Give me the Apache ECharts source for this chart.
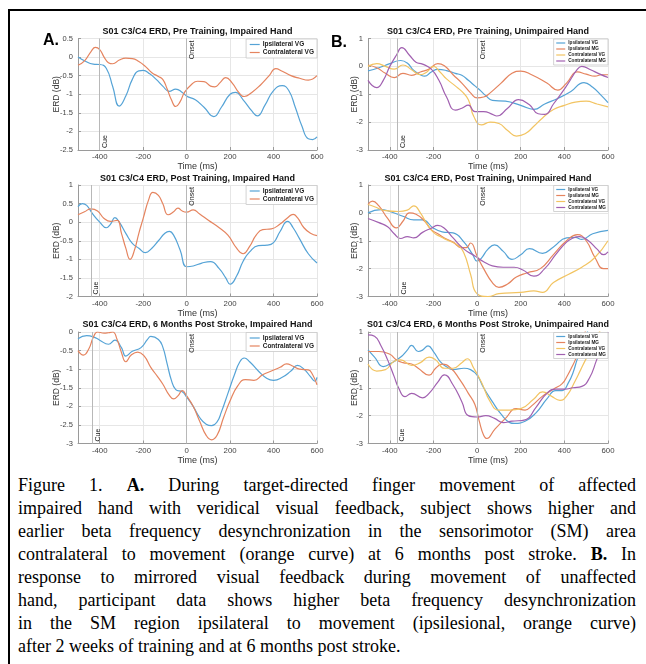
<!DOCTYPE html>
<html><head><meta charset="utf-8">
<script src="https://cdn.jsdelivr.net/npm/echarts@6/dist/echarts.min.js"></script>
<style>
html,body{margin:0;padding:0;background:#fff;width:646px;height:664px;overflow:hidden;position:relative}
#frame{position:absolute;left:8px;top:9px;width:700px;height:700px;border:2px solid #000;box-sizing:border-box}
#chart{position:absolute;left:0;top:0;width:646px;height:470px}
#cap{position:absolute;left:18px;top:474px;width:618px;font-family:'Liberation Serif','Times New Roman',serif;font-size:18px;line-height:23px;color:#000}
#cap div{text-align:justify;text-align-last:justify;white-space:nowrap}
#cap div.last{text-align:left;text-align-last:left}
</style></head>
<body>
<div id="frame"></div>
<div id="chart"></div>
<div id="cap">
<div>Figure 1. <b>A.</b> During target-directed finger movement of affected</div>
<div>impaired hand with veridical visual feedback, subject shows higher and</div>
<div>earlier beta frequency desynchronization in the sensorimotor (SM) area</div>
<div>contralateral to movement (orange curve) at 6 months post stroke. <b>B.</b> In</div>
<div>response to mirrored visual feedback during movement of unaffected</div>
<div>hand, participant data shows higher beta frequency desynchronization</div>
<div>in the SM region ipsilateral to movement (ipsilesional, orange curve)</div>
<div class="last">after 2 weeks of training and at 6 months post stroke.</div>
</div>
<script>
// ---- data ----
const xTicks = [-400, -200, 0, 200, 400, 600];
const titles = [
  'S01 C3/C4 ERD, Pre Training, Impaired Hand',
  'S01 C3/C4 ERD, Pre Training, Unimpaired Hand',
  'S01 C3/C4 ERD, Post Training, Impaired Hand',
  'S01 C3/C4 ERD, Post Training, Unimpaired Hand',
  'S01 C3/C4 ERD, 6 Months Post Stroke, Impaired Hand',
  'S01 C3/C4 ERD, 6 Months Post Stroke, Unimpaired Hand'
];
const namesA = ['Ipsilateral VG', 'Contralateral VG'];
const namesB = ['Ipsilateral VG', 'Ipsilateral MG', 'Contralateral VG', 'Contralateral MG'];
const cueTimes = [-400, -365, -440, -362, -435, -367];

const preImpIpsi = [[-500,0.0],[-470,-0.1],[-430,-0.19],[-400,-0.2],[-370,-0.3],[-340,-0.8],[-310,-1.32],[-280,-1.05],[-250,-0.6],[-220,-0.37],[-200,-0.36],[-170,-0.45],[-140,-0.6],[-110,-0.78],[-80,-0.92],[-50,-0.86],[-20,-0.95],[0,-1.05],[40,-1.15],[80,-1.35],[125,-1.6],[160,-1.35],[200,-1.0],[225,-0.95],[260,-1.15],[300,-1.45],[325,-1.58],[360,-1.3],[400,-0.9],[440,-0.77],[470,-0.9],[500,-1.35],[530,-1.85],[560,-2.2],[580,-2.22],[600,-2.15]];
const preImpContra = [[-500,-0.22],[-470,-0.1],[-440,0.15],[-420,0.26],[-400,0.2],[-380,0.0],[-360,-0.15],[-340,-0.18],[-310,-0.08],[-280,-0.03],[-250,-0.04],[-220,-0.12],[-190,-0.25],[-160,-0.42],[-130,-0.52],[-110,-0.6],[-90,-0.85],[-70,-1.15],[-50,-1.33],[-30,-1.2],[-10,-0.95],[20,-0.75],[50,-0.65],[80,-0.66],[110,-0.78],[130,-0.8],[155,-0.68],[180,-0.55],[210,-0.7],[240,-0.95],[265,-1.06],[300,-0.95],[340,-0.75],[380,-0.5],[410,-0.31],[440,-0.38],[480,-0.5],[520,-0.57],[560,-0.62],[600,-0.5]];

const postImpIpsi = [[-500,0.42],[-480,0.5],[-460,0.45],[-430,0.2],[-400,0.0],[-370,-0.15],[-350,-0.05],[-330,0.12],[-310,0.0],[-280,-0.3],[-250,-0.57],[-220,-0.7],[-190,-0.82],[-160,-0.7],[-130,-0.5],[-100,-0.3],[-80,-0.25],[-60,-0.35],[-30,-0.75],[0,-1.2],[30,-1.18],[70,-1.1],[110,-1.06],[150,-1.25],[180,-1.5],[200,-1.67],[230,-1.45],[260,-1.05],[290,-0.8],[330,-0.63],[370,-0.62],[400,-0.55],[430,-0.25],[465,0.02],[490,-0.15],[520,-0.45],[560,-0.85],[600,-1.1]];
const postImpContra = [[-500,0.2],[-470,0.28],[-440,0.36],[-410,0.3],[-380,0.1],[-350,0.02],[-320,0.05],[-300,-0.3],[-280,-0.7],[-260,-1.0],[-240,-0.75],[-220,-0.3],[-200,0.1],[-175,0.6],[-155,0.8],[-130,0.72],[-110,0.5],[-85,0.2],[-60,0.28],[-40,0.38],[-20,0.3],[0,0.27],[30,0.33],[60,0.22],[100,0.05],[150,-0.15],[190,-0.35],[230,-0.7],[260,-0.85],[290,-0.65],[320,-0.35],[350,-0.2],[390,-0.18],[430,-0.05],[465,0.12],[490,0.21],[510,0.12],[540,-0.15],[570,-0.3],[600,-0.36]];

const m6ImpIpsi = [[-500,-0.18],[-460,-0.1],[-430,-0.13],[-400,-0.22],[-360,-0.33],[-330,-0.22],[-300,-0.42],[-280,-0.65],[-250,-0.52],[-210,-0.42],[-180,-0.2],[-165,-0.12],[-130,-0.2],[-110,-0.4],[-90,-0.85],[-70,-1.3],[-50,-1.55],[-20,-1.61],[0,-1.75],[30,-2.0],[60,-2.3],[90,-2.48],[115,-2.52],[140,-2.42],[160,-2.15],[190,-1.65],[220,-1.15],[245,-0.8],[265,-0.7],[290,-0.8],[330,-1.05],[370,-1.25],[400,-1.3],[440,-1.22],[480,-1.05],[510,-0.9],[540,-1.0],[570,-1.2],[590,-1.32],[600,-1.22]];
const m6ImpContra = [[-500,-0.5],[-475,-0.62],[-450,-0.45],[-430,-0.15],[-410,0.0],[-380,-0.03],[-360,-0.02],[-340,0.0],[-320,-0.2],[-300,-0.55],[-280,-0.8],[-255,-0.62],[-225,-0.54],[-195,-0.65],[-165,-0.95],[-140,-1.15],[-110,-1.4],[-80,-1.7],[-60,-1.8],[-40,-1.72],[-20,-1.58],[0,-1.72],[30,-2.0],[60,-2.4],[90,-2.78],[115,-2.9],[140,-2.78],[170,-2.3],[200,-1.85],[235,-1.45],[270,-1.28],[310,-1.3],[350,-1.15],[390,-1.05],[430,-0.95],[460,-0.86],[490,-0.92],[520,-1.0],[560,-1.02],[580,-1.15],[600,-1.42]];

const preUnIpsiVG = [[-500,-0.16],[-450,-0.05],[-400,0.1],[-350,0.21],[-320,0.12],[-290,-0.15],[-260,-0.3],[-240,-0.35],[-210,-0.2],[-180,-0.11],[-140,-0.15],[-100,-0.25],[-70,-0.32],[-40,-0.5],[-10,-0.7],[10,-0.83],[40,-1.05],[70,-1.22],[130,-1.25],[200,-1.4],[260,-1.54],[310,-1.35],[370,-1.15],[430,-0.9],[490,-0.58],[530,-0.75],[570,-1.05],[600,-1.3]];
const preUnIpsiMG = [[-500,0.05],[-460,-0.05],[-420,-0.25],[-380,-0.4],[-340,-0.25],[-300,-0.32],[-260,-0.2],[-220,-0.1],[-180,0.1],[-150,0.02],[-110,-0.3],[-70,-0.6],[-30,-0.95],[0,-1.13],[30,-1.1],[60,-0.95],[110,-0.6],[160,-0.25],[200,-0.17],[250,-0.3],[320,-0.6],[370,-0.85],[410,-0.6],[460,-0.2],[500,-0.28],[540,-0.35],[570,-0.3],[600,-0.3]];
const preUnContraVG = [[-500,0.0],[-460,0.1],[-420,0.0],[-380,-0.1],[-340,0.05],[-300,-0.12],[-260,-0.3],[-230,-0.2],[-200,0.0],[-170,-0.2],[-140,-0.45],[-100,-0.7],[-70,-0.9],[-40,-1.2],[-15,-1.8],[20,-2.1],[60,-2.0],[100,-2.05],[140,-2.3],[180,-2.5],[220,-2.42],[260,-2.15],[300,-1.85],[350,-1.55],[400,-1.4],[450,-1.28],[500,-1.25],[550,-1.35],[600,-1.45]];
const preUnContraMG = [[-500,-0.5],[-460,-0.76],[-430,-0.5],[-400,0.0],[-370,0.4],[-345,0.67],[-310,0.4],[-280,0.15],[-250,0.08],[-210,-0.1],[-175,-0.5],[-140,-1.1],[-100,-1.57],[-70,-1.5],[-40,-1.39],[-10,-1.62],[30,-1.62],[70,-1.72],[90,-1.78],[140,-1.5],[190,-1.19],[240,-1.38],[280,-1.7],[310,-1.72],[350,-1.35],[410,-0.7],[460,-0.1],[480,0.0],[520,-0.12],[560,-0.27],[600,-0.4]];

const postUnIpsiVG = [[-500,0.0],[-440,0.12],[-400,0.05],[-340,-0.12],[-290,-0.25],[-250,-0.25],[-200,-0.55],[-160,-0.68],[-110,-0.72],[-60,-1.05],[-20,-1.5],[0,-1.73],[20,-1.62],[50,-1.3],[80,-1.15],[120,-1.38],[160,-1.67],[200,-1.5],[240,-1.28],[300,-1.45],[350,-1.22],[410,-0.9],[450,-0.88],[480,-0.95],[530,-0.75],[600,-0.63]];
const postUnIpsiMG = [[-500,0.3],[-480,0.42],[-450,0.25],[-410,-0.2],[-370,-0.54],[-340,-0.3],[-310,0.0],[-280,-0.05],[-240,-0.3],[-210,-0.6],[-180,-0.75],[-150,-0.9],[-110,-1.05],[-70,-1.25],[-50,-1.25],[-30,-1.08],[0,-1.55],[30,-2.0],[70,-2.5],[100,-2.67],[140,-2.55],[180,-2.3],[230,-2.15],[290,-2.0],[350,-1.5],[410,-1.0],[460,-0.78],[500,-1.0],[540,-1.6],[580,-2.0],[600,-2.0]];
const postUnContraVG = [[-500,0.3],[-470,0.22],[-420,0.08],[-360,0.05],[-320,0.1],[-290,0.25],[-260,0.0],[-230,-0.4],[-200,-0.7],[-170,-0.85],[-130,-1.0],[-90,-1.15],[-60,-1.45],[-30,-2.2],[0,-2.9],[50,-3.0],[100,-2.9],[200,-2.85],[260,-2.8],[300,-2.85],[350,-2.5],[420,-2.2],[480,-1.95],[540,-1.6],[600,-1.0]];
const postUnContraMG = [[-500,-0.2],[-450,-0.35],[-410,-0.5],[-380,-0.75],[-350,-0.92],[-320,-0.85],[-290,-0.9],[-250,-0.7],[-210,-0.55],[-180,-0.45],[-150,-0.55],[-110,-0.9],[-60,-1.3],[-10,-1.55],[30,-1.75],[70,-1.9],[120,-1.95],[170,-1.95],[210,-2.05],[260,-2.27],[310,-2.0],[360,-1.5],[410,-1.05],[440,-0.9],[470,-0.85],[510,-1.0],[550,-1.3],[580,-1.5],[600,-1.4]];

const m6UnIpsiVG = [[-500,0.36],[-470,0.1],[-430,-0.24],[-390,-0.1],[-350,0.1],[-320,0.35],[-300,0.52],[-270,0.3],[-250,0.35],[-225,0.5],[-200,0.3],[-170,-0.05],[-140,-0.25],[-110,-0.35],[-60,-0.3],[-30,-0.35],[0,-0.55],[30,-1.0],[70,-1.5],[110,-1.95],[150,-2.25],[170,-2.28],[220,-2.2],[270,-1.9],[320,-1.4],[360,-1.1],[390,-1.1],[420,-0.8],[440,-0.45],[458,0.0],[480,0.5],[505,1.0],[530,1.4]];
const m6UnIpsiMG = [[-500,0.3],[-450,0.3],[-400,0.2],[-370,0.0],[-340,-0.1],[-300,-0.15],[-270,-0.3],[-220,-0.55],[-190,-0.3],[-160,-0.15],[-120,-0.3],[-80,-0.7],[-40,-1.2],[-10,-1.6],[10,-2.2],[30,-2.7],[45,-2.82],[80,-2.5],[130,-2.1],[180,-1.75],[220,-1.8],[250,-1.65],[300,-1.3],[350,-1.05],[390,-0.85],[415,-0.55],[435,-0.25],[450,0.0],[472,0.5],[495,1.0],[520,1.4]];
const m6UnContraVG = [[-500,-0.15],[-460,-0.4],[-420,-0.35],[-380,-0.05],[-350,0.0],[-300,-0.2],[-260,-0.1],[-220,0.1],[-190,0.0],[-150,-0.3],[-110,-0.3],[-70,-0.1],[-45,0.04],[-15,-0.3],[20,-0.8],[60,-1.5],[100,-1.8],[150,-1.8],[200,-1.75],[260,-1.4],[300,-1.15],[340,-1.3],[380,-1.45],[410,-1.3],[450,-0.75],[475,-0.35],[497,0.0],[530,0.5],[560,1.0],[600,1.3]];
const m6UnContraMG = [[-500,0.9],[-470,0.85],[-440,0.5],[-410,0.0],[-380,-0.6],[-360,-1.0],[-330,-1.32],[-300,-1.2],[-250,-1.36],[-220,-1.2],[-180,-0.8],[-150,-0.54],[-110,-0.9],[-70,-1.5],[-40,-2.0],[0,-2.05],[40,-2.0],[80,-2.1],[120,-2.25],[160,-2.2],[220,-2.15],[270,-1.7],[320,-1.2],[360,-1.05],[400,-1.05],[440,-1.0],[480,-0.95],[515,-0.65],[548,0.0],[575,0.55],[600,1.0]];

// ---- styles / layout ----
const colorsA = ['#55a3d6', '#e5845f'];
const colorsB = ['#55a3d6', '#e5845f', '#f2c462', '#a160b0'];
const panelData = [
  [preImpIpsi, preImpContra],
  [preUnIpsiVG, preUnIpsiMG, preUnContraVG, preUnContraMG],
  [postImpIpsi, postImpContra],
  [postUnIpsiVG, postUnIpsiMG, postUnContraVG, postUnContraMG],
  [m6ImpIpsi, m6ImpContra],
  [m6UnIpsiVG, m6UnIpsiMG, m6UnContraVG, m6UnContraMG]
];
const yRanges = [[-2.5,0.5,0.5],[-3,1,1],[-2,1,0.5],[-3,1,1],[-3,0,0.5],[-3,1,1]];
const colLeft = [78, 368], colWidth = [239, 240];
const rowTop = [38.5, 185, 332], rowHeight = 111.5;
const titleTop = [27.3, 174, 320.5];
const font = "'Liberation Sans', Arial, sans-serif";

const grid = [], xAxis = [], yAxis = [], series = [], legend = [], title = [];
for (let p = 0; p < 6; p++) {
  const col = p % 2, row = Math.floor(p / 2);
  const isA = col === 0;
  const names = isA ? namesA : namesB;
  const colors = isA ? colorsA : colorsB;
  grid.push({left: colLeft[col], top: rowTop[row], width: colWidth[col], height: rowHeight});
  xAxis.push({
    type: 'value', gridIndex: p, min: -500, max: 600,
    name: 'Time (ms)', nameLocation: 'middle', nameGap: 12.5, nameMoveOverlap: false,
    nameTextStyle: {fontFamily: font, fontSize: 9, color: '#333'},
    axisLine: {show: true, onZero: false, lineStyle: {color: '#9a9a9a', width: 1}},
    axisTick: {show: true, inside: true, length: 3, customValues: xTicks, lineStyle: {color: '#9a9a9a'}},
    axisLabel: {customValues: xTicks, fontFamily: font, fontSize: 7.8, color: '#444', margin: 3},
    splitLine: {show: true, lineStyle: {color: '#e6e6e6', width: 1}}
  });
  const yr = yRanges[p];
  yAxis.push({
    type: 'value', gridIndex: p, min: yr[0], max: yr[1], interval: yr[2],
    name: 'ERD (dB)', nameLocation: 'middle', nameGap: isA ? 16.5 : 9, nameRotate: 90, nameMoveOverlap: false,
    nameTextStyle: {fontFamily: font, fontSize: 8.5, color: '#333'},
    axisLine: {show: true, onZero: false, lineStyle: {color: '#9a9a9a', width: 1}},
    axisTick: {show: true, inside: true, length: 3, lineStyle: {color: '#9a9a9a'}},
    axisLabel: {fontFamily: font, fontSize: 7.5, color: '#444', margin: 5},
    splitLine: {show: true, lineStyle: {color: '#e6e6e6', width: 1}}
  });
  title.push({
    text: titles[p], left: colLeft[col] + colWidth[col] / 2, top: titleTop[row], textAlign: 'center', padding: 0,
    textStyle: {fontFamily: font, fontSize: 9, fontWeight: 'bold', color: '#111'}
  });
  panelData[p].forEach((d, i) => {
    const s = {
      type: 'line', name: names[i], xAxisIndex: p, yAxisIndex: p, data: d,
      smooth: 0.5, symbol: 'none', showSymbol: false, clip: true,
      lineStyle: {color: colors[i], width: 1.2}, itemStyle: {color: colors[i]},
      z: 3, silent: true
    };
    if (i === 0) {
      s.markLine = {
        symbol: 'none', silent: true, animation: false,
        lineStyle: {color: '#b8b8b8', width: 1, type: 'solid'},
        data: [
          {xAxis: cueTimes[p], label: {show: true, formatter: 'Cue', position: 'insideStartBottom', fontFamily: font, fontSize: 7, color: '#222', distance: 2}},
          {xAxis: 0, label: {show: true, formatter: 'Onset', position: 'insideEndBottom', fontFamily: font, fontSize: 7, color: '#222', distance: 2}}
        ]
      };
    }
    series.push(s);
  });
  legend.push({
    orient: 'vertical',
    right: 646 - (colLeft[col] + colWidth[col]),
    top: rowTop[row] + 0.5,
    backgroundColor: '#fff', borderColor: '#c8c8c8', borderWidth: 0.8,
    padding: isA ? [2, 3, 2, 3] : [1.5, 2, 1.5, 2],
    itemGap: 1,
    itemWidth: isA ? 10 : 9, itemHeight: isA ? 6.5 : 5,
    selectedMode: false,
    itemStyle: {opacity: 0},
    textStyle: {fontFamily: font, fontSize: isA ? 6.5 : 4.7, fontWeight: 'bold', color: '#222', padding: [0,0,0,-2]},
    data: names.map((n, i) => ({name: n, lineStyle: {color: colors[i], width: 1.2}, itemStyle: {opacity: 0}}))
  });
}
title.push({text: 'A.', left: 43, top: 33, padding: 0, textStyle: {fontFamily: font, fontSize: 16, fontWeight: 'bold', color: '#000'}});
title.push({text: 'B.', left: 331, top: 35, padding: 0, textStyle: {fontFamily: font, fontSize: 16, fontWeight: 'bold', color: '#000'}});

const chart = echarts.init(document.getElementById('chart'), null, {renderer: 'canvas'});
chart.setOption({animation: false, backgroundColor: 'transparent', title, grid, xAxis, yAxis, series, legend});
</script>
</body></html>
